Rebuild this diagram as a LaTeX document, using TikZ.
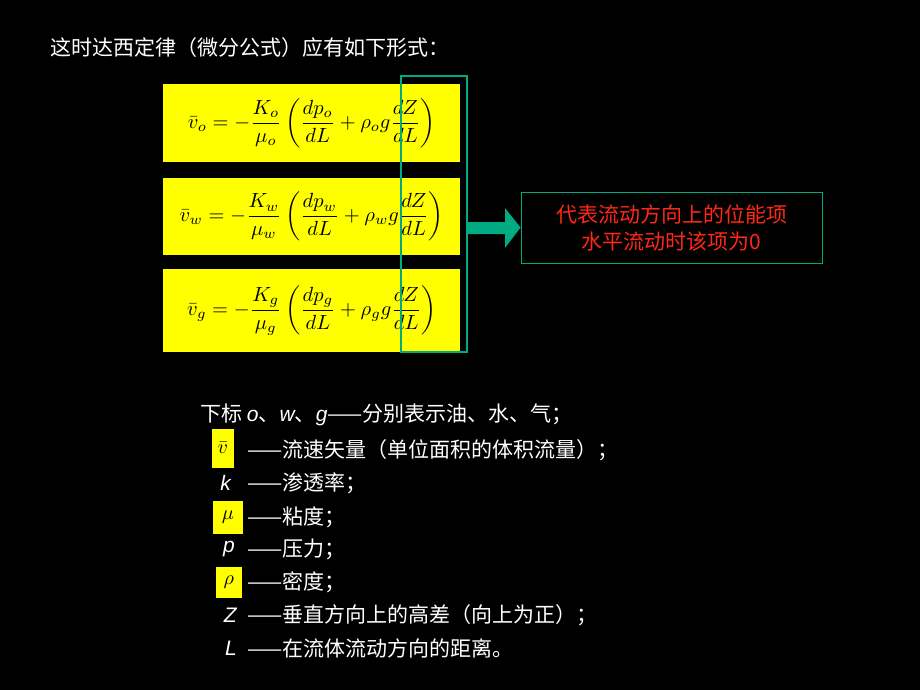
\documentclass[tikz,border=0pt]{standalone}
\usepackage{amsmath}
\usepackage{graphicx}
\usepackage{fontspec}
\newfontfamily\cjk{Noto Sans CJK SC}
\newfontfamily\latsans{Liberation Sans}
\usetikzlibrary{positioning}
\definecolor{formulabg}{RGB}{255,255,0}
\definecolor{tealline}{RGB}{0,170,130}
\definecolor{notered}{RGB}{255,40,20}
\tikzset{
  formula/.style={fill=formulabg,text=black,inner sep=0pt,minimum width=297pt,anchor=north west},
  legend/.style={anchor=west,text=white,inner sep=0pt,font=\cjk\fontsize{21}{25}\selectfont},
  symbol/.style={anchor=east,text=white,inner sep=1pt,font=\latsans\itshape\fontsize{21}{25}\selectfont},
  marked/.style={fill=formulabg,text=black,inner sep=1pt}
}
\newcommand{\bigmath}[1]{\scalebox{2.05}{$\displaystyle #1$}}
\begin{document}
\begin{tikzpicture}[x=1pt,y=1pt]
  \useasboundingbox[fill=black] (0,0) rectangle (920,-690);
  \node[legend] (title) at (50,-48) {这时达西定律（微分公式）应有如下形式：};
  % three formulas
  \node[formula,minimum height=78pt] (fo) at (163,-84)
    {\bigmath{\bar{v}_o=-\frac{K_o}{\mu_o}\left(\frac{dp_o}{dL}+\rho_o g\frac{dZ}{dL}\right)}};
  \node[formula,minimum height=77pt] (fw) at (163,-178)
    {\bigmath{\bar{v}_w=-\frac{K_w}{\mu_w}\left(\frac{dp_w}{dL}+\rho_w g\frac{dZ}{dL}\right)}};
  \node[formula,minimum height=83pt] (fg) at (163,-269)
    {\bigmath{\bar{v}_g=-\frac{K_g}{\mu_g}\left(\frac{dp_g}{dL}+\rho_g g\frac{dZ}{dL}\right)}};
  \draw[tealline,line width=2.5pt] (401,-76) rectangle (467,-352);
  % note on the gravity term
  \node[draw=tealline,line width=1pt,text=notered,align=center,minimum width=301pt,minimum height=71pt,
        font=\cjk\fontsize{21}{27}\selectfont] (note) at (671.5,-227.5) {代表流动方向上的位能项\\水平流动时该项为0};
  \fill[tealline] (468,-222) -- (505,-222) -- (505,-208) -- (note.west) -- (505,-248) -- (505,-234) -- (468,-234) -- cycle;
  % legend
  \node[legend] (l1) at (200,-415) {下标 {\latsans\itshape o}、{\latsans\itshape w}、{\latsans\itshape g}——分别表示油、水、气；};
  \node[legend] (l2) at (247,-450) {——流速矢量（单位面积的体积流量）；};
  \node[marked,anchor=east,minimum height=39pt,minimum width=22pt] (s2) at (234,-448) {\scalebox{2}{$\bar{v}$}};
  \node[legend] (l3) at (247,-483) {——渗透率；};
  \node[symbol] (s3) at (232,-483) {k};
  \node[legend] (l4) at (247,-517) {——粘度；};
  \node[marked,anchor=east,minimum height=33pt,minimum width=30pt] (s4) at (243,-517) {\scalebox{2}{$\mu$}};
  \node[legend] (l5) at (247,-549) {——压力；};
  \node[symbol] (s5) at (236,-549) {p};
  \node[legend] (l6) at (247,-582) {——密度；};
  \node[marked,anchor=east,minimum height=31pt,minimum width=26pt] (s6) at (242,-582) {\scalebox{2}{$\rho$}};
  \node[legend] (l7) at (247,-615) {——垂直方向上的高差（向上为正）；};
  \node[symbol] (s7) at (238,-615) {Z};
  \node[legend] (l8) at (247,-648) {——在流体流动方向的距离。};
  \node[symbol] (s8) at (238,-648) {L};
\end{tikzpicture}
\end{document}
